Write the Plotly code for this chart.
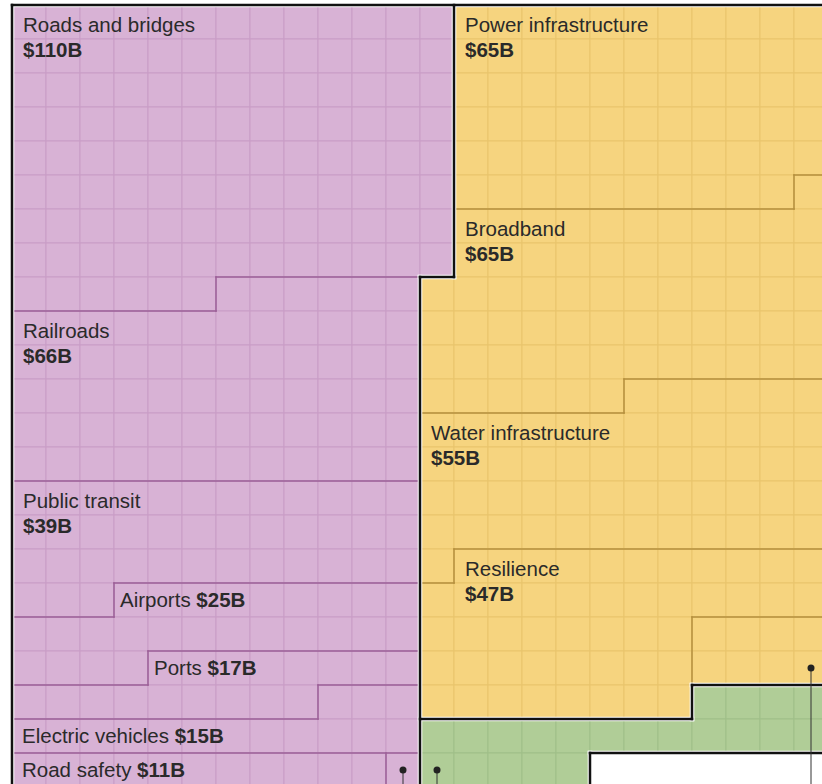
import plotly.graph_objects as go

# ---------------- data (one cell = $1B) ----------------
categories = ["Roads and bridges", "Railroads", "Public transit", "Airports", "Ports",
              "Electric vehicles", "Road safety", "Reconnecting communities",
              "Power infrastructure", "Broadband", "Water infrastructure", "Resilience",
              "Western water infrastructure", "Environmental remediation"]
values_bn = [110, 66, 39, 25, 17, 15, 11, 1, 65, 65, 55, 47, 8, 21]
groups = ["Transportation"] * 8 + ["Utilities"] * 5 + ["Environment"]
strip_of_group = {"Transportation": 0, "Utilities": 1, "Environment": 1}
callouts = {"Reconnecting communities": "left",
            "Western water infrastructure": "right",
            "Environmental remediation": "left"}
tucked = {"Western water infrastructure": 4}

# ---------------- layout / style ----------------
N_COLS, N_ROWS = 24, 23
STEP_ROW, SPLIT_TOP, SPLIT_LOW = 8, 13, 12
CELL = 34.0          # px per cell
X0, Y0 = 12.0, 5.0   # px position of grid origin
W, H = 822, 784

fill = {"Transportation": "#d8b2d5", "Utilities": "#f6d47f", "Environment": "#b0cd97"}
grid = {"Transportation": "#c99cc6", "Utilities": "#e9c46d", "Environment": "#9fbf88"}
edge = {"Transportation": "#9b5f97", "Utilities": "#b58f3e", "Environment": "#6f8f5a"}
FONT = "Liberation Sans, Arial, sans-serif"
TXT = "#2a2a2a"


def split(r):
    return SPLIT_TOP if r < STEP_ROW else SPLIT_LOW


def strip_cells(side):
    for r in range(N_ROWS):
        s = split(r)
        cols = range(0, s) if side == 0 else range(s, N_COLS)
        for c in cols:
            yield (r, c)


# row-major fill of each strip
owner = {}
for side in (0, 1):
    order = [k for k in range(len(categories)) if strip_of_group[groups[k]] == side]
    it = strip_cells(side)
    for k in order:
        for _ in range(values_bn[k]):
            owner[next(it)] = k

# tuck small categories into a right-hand block above their slot
for name, w in tucked.items():
    k = categories.index(name)
    mine = [cell for cell, o in owner.items() if o == k]
    first_row = min(r for r, c in mine)
    h = len(mine) // w
    block = [(r, c) for r in range(first_row - h, first_row) for c in range(N_COLS - w, N_COLS)]
    donor = owner[block[0]]
    for cell in mine:
        owner[cell] = donor
    for cell in block:
        owner[cell] = k

fig = go.Figure()

# cells
for g in fill:
    xs, ys = [], []
    for (r, c), k in owner.items():
        if groups[k] == g:
            xs.append(c + 0.5)
            ys.append(r + 0.5)
    fig.add_trace(go.Scatter(x=xs, y=ys, mode="markers", hoverinfo="skip",
                             marker=dict(symbol="square", size=CELL, color=fill[g],
                                         line=dict(width=1, color=grid[g]))))

# boundaries
def grp(k):
    return None if k is None else groups[k]

thin = {g: [] for g in fill}
thick = []
for r in range(N_ROWS + 1):
    for c in range(N_COLS):
        a, b = owner.get((r - 1, c)), owner.get((r, c))
        if a == b:
            continue
        seg = ("h", r, c, c + 1)
        if grp(a) == grp(b):
            thin[grp(a)].append(seg)
        else:
            thick.append(seg)
for c in range(N_COLS + 1):
    for r in range(N_ROWS):
        a, b = owner.get((r, c - 1)), owner.get((r, c))
        if a == b:
            continue
        seg = ("v", c, r, r + 1)
        if grp(a) == grp(b):
            thin[grp(a)].append(seg)
        else:
            thick.append(seg)


def merge(segs):
    segs = sorted(segs)
    out = []
    for s in segs:
        if out and out[-1][0] == s[0] and out[-1][1] == s[1] and out[-1][3] == s[2]:
            out[-1] = (s[0], s[1], out[-1][2], s[3])
        else:
            out.append(s)
    return out


def to_xy(segs, ext_px):
    e = ext_px / CELL
    xs, ys = [], []
    for o, p, a, b in merge(segs):
        if o == "h":
            xs += [a - e, b + e, None]
            ys += [p, p, None]
        else:
            xs += [p, p, None]
            ys += [a - e, b + e, None]
    return xs, ys


for g, segs in thin.items():
    if segs:
        xs, ys = to_xy(segs, 0.75)
        fig.add_trace(go.Scatter(x=xs, y=ys, mode="lines", hoverinfo="skip",
                                 line=dict(color=edge[g], width=1.5)))
xs, ys = to_xy(thick, 2.3)
fig.add_trace(go.Scatter(x=xs, y=ys, mode="lines", hoverinfo="skip",
                         line=dict(color="white", width=4.6)))
xs, ys = to_xy(thick, 1.25)
fig.add_trace(go.Scatter(x=xs, y=ys, mode="lines", hoverinfo="skip",
                         line=dict(color="#111111", width=2.5)))

# callout dots + leader lines
for name, side in callouts.items():
    k = categories.index(name)
    mine = [cell for cell, o in owner.items() if o == k]
    last = max(r for r, c in mine)
    cols = [c for r, c in mine if r == last]
    c = min(cols) if side == "left" else max(cols)
    fig.add_trace(go.Scatter(x=[c + 0.5, c + 0.5], y=[last + 0.5, N_ROWS + 2], mode="lines",
                             hoverinfo="skip", line=dict(color="#333333", width=1)))
    fig.add_trace(go.Scatter(x=[c + 0.5], y=[last + 0.5], mode="markers", hoverinfo="skip",
                             marker=dict(size=7, color="#222222")))

# labels
annotations = []
for k, name in enumerate(categories):
    if name in callouts:
        continue
    mine = [cell for cell, o in owner.items() if o == k]
    rows = sorted(set(r for r, c in mine))
    for r in rows:
        rc = sorted(c for rr, c in mine if rr == r)
        if len(rc) >= 7:
            break
    col = rc[0]
    side = strip_of_group[groups[k]]
    strip_left = 0 if side == 0 else split(r)
    val = f"${values_bn[k]}B"
    if values_bn[k] >= 30:
        dx = 10.5
        annotations.append(dict(x=col + dx / CELL, y=r + 19 / CELL, text=name))
        annotations.append(dict(x=col + dx / CELL, y=r + 44 / CELL, text=f"<b>{val}</b>"))
    else:
        dx = 10 if col == strip_left else 6
        annotations.append(dict(x=col + dx / CELL, y=r + 16.5 / CELL,
                                text=f"{name} <b>{val}</b>"))

for a in annotations:
    a.update(xref="x", yref="y", xanchor="left", yanchor="middle", showarrow=False,
             borderpad=0, borderwidth=0, font=dict(family=FONT, size=20.5, color=TXT))

fig.update_layout(
    width=W, height=H, margin=dict(l=0, r=0, t=0, b=0),
    paper_bgcolor="white", plot_bgcolor="white", showlegend=False,
    annotations=annotations,
    xaxis=dict(range=[-X0 / CELL, (W - X0) / CELL], visible=False, fixedrange=True),
    yaxis=dict(range=[(H - Y0) / CELL, -Y0 / CELL], visible=False, fixedrange=True),
)

fig.write_html("out.html", config={"displayModeBar": False},
               post_script="document.body.style.margin='0';document.body.style.overflow='hidden';")
